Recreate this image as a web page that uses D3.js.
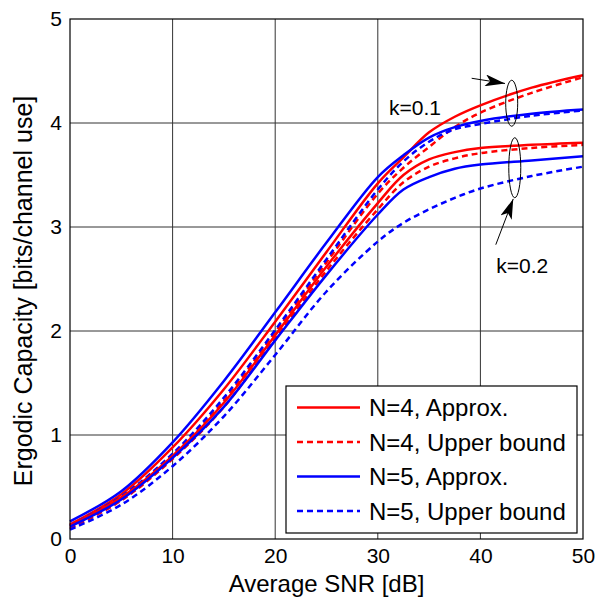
<!DOCTYPE html>
<html>
<head>
<meta charset="utf-8">
<script src="https://cdn.jsdelivr.net/npm/d3@7"></script>
<style>
  body { margin: 0; background: #fff; }
  svg text { font-family: "Liberation Sans", Arial, sans-serif; fill: #000; }
</style>
</head>
<body>
<div id="chart"></div>
<script>
// SNR points (dB)
const snr = [0, 5, 10, 15, 20, 25, 30, 32.5, 35, 37.5, 40, 45, 50];

// k = 0.1
const k01N4Approx = [0.14, 0.43, 0.88, 1.44, 2.09, 2.76, 3.42, 3.67, 3.91, 4.06, 4.17, 4.34, 4.46];
const k01N4Upper  = [0.12, 0.40, 0.80, 1.33, 1.99, 2.66, 3.32, 3.57, 3.77, 3.96, 4.10, 4.29, 4.44];
const k01N5Approx = [0.17, 0.46, 0.93, 1.52, 2.18, 2.85, 3.48, 3.69, 3.86, 3.96, 4.02, 4.09, 4.13];
const k01N5Upper  = [0.13, 0.41, 0.82, 1.36, 2.01, 2.69, 3.36, 3.63, 3.82, 3.94, 3.99, 4.07, 4.12];

// k = 0.2
const k02N4Approx = [0.13, 0.40, 0.80, 1.31, 1.96, 2.62, 3.23, 3.50, 3.65, 3.72, 3.76, 3.79, 3.81];
const k02N4Upper  = [0.10, 0.37, 0.77, 1.27, 1.93, 2.58, 3.17, 3.43, 3.58, 3.66, 3.71, 3.76, 3.79];
const k02N5Approx = [0.12, 0.38, 0.78, 1.27, 1.91, 2.54, 3.12, 3.36, 3.48, 3.56, 3.60, 3.64, 3.68];
const k02N5Upper  = [0.09, 0.33, 0.70, 1.18, 1.77, 2.38, 2.86, 3.04, 3.17, 3.28, 3.37, 3.49, 3.58];

const xTicks = [0, 10, 20, 30, 40, 50];
const yTicks = [0, 1, 2, 3, 4, 5];

const legendLabels = ["N=4, Approx.", "N=4, Upper bound", "N=5, Approx.", "N=5, Upper bound"];
const legendColors = ["#ff0000", "#ff0000", "#0000ff", "#0000ff"];
const legendDashed = [false, true, false, true];

const series = [
    { values: k01N4Approx, color: "#ff0000", dashed: false },
    { values: k01N4Upper,  color: "#ff0000", dashed: true },
    { values: k01N5Approx, color: "#0000ff", dashed: false },
    { values: k01N5Upper,  color: "#0000ff", dashed: true },
    { values: k02N4Approx, color: "#ff0000", dashed: false },
    { values: k02N4Upper,  color: "#ff0000", dashed: true },
    { values: k02N5Approx, color: "#0000ff", dashed: false },
    { values: k02N5Upper,  color: "#0000ff", dashed: true }
];

const width = 610, height = 608;
const margin = { top: 19, right: 27, bottom: 69, left: 70 };
const innerW = width - margin.left - margin.right;
const innerH = height - margin.top - margin.bottom;

const svg = d3.select("#chart").append("svg")
    .attr("width", width)
    .attr("height", height);

const g = svg.append("g").attr("transform", `translate(${margin.left},${margin.top})`);

const x = d3.scaleLinear().domain([0, 50]).range([0, innerW]);
const y = d3.scaleLinear().domain([0, 5]).range([innerH, 0]);

// grid
g.append("g").selectAll("line").data(xTicks.slice(1, -1)).enter().append("line")
    .attr("x1", d => x(d)).attr("x2", d => x(d))
    .attr("y1", 0).attr("y2", innerH)
    .attr("stroke", "#333").attr("stroke-width", 1);
g.append("g").selectAll("line").data(yTicks.slice(1, -1)).enter().append("line")
    .attr("y1", d => y(d)).attr("y2", d => y(d))
    .attr("x1", 0).attr("x2", innerW)
    .attr("stroke", "#333").attr("stroke-width", 1);

// axes
const xAxis = g.append("g")
    .attr("transform", `translate(0,${innerH})`)
    .call(d3.axisBottom(x).tickValues(xTicks).tickFormat(d3.format("d")).tickSize(0).tickPadding(8));
xAxis.select(".domain").remove();
xAxis.selectAll("text").style("font-size", "21px").attr("dy", "0.75em");

const yAxis = g.append("g")
    .call(d3.axisLeft(y).tickValues(yTicks).tickFormat(d3.format("d")).tickSize(0).tickPadding(8));
yAxis.select(".domain").remove();
yAxis.selectAll("text").style("font-size", "21px");

// curves
const line = d3.line()
    .x((d, i) => x(snr[i]))
    .y(d => y(d))
    .curve(d3.curveCatmullRom.alpha(0.5));

g.append("g").selectAll("path").data(series).enter().append("path")
    .attr("d", d => line(d.values))
    .attr("fill", "none")
    .attr("stroke", d => d.color)
    .attr("stroke-width", 2.5)
    .attr("stroke-dasharray", d => d.dashed ? "6,4" : null);

// frame
g.append("rect")
    .attr("width", innerW).attr("height", innerH)
    .attr("fill", "none").attr("stroke", "#000").attr("stroke-width", 1.2);

// axis titles
svg.append("text")
    .attr("x", margin.left + innerW / 2)
    .attr("y", 592)
    .attr("text-anchor", "middle")
    .style("font-size", "24px")
    .text("Average SNR [dB]");

svg.append("text")
    .attr("transform", `translate(32,${margin.top + innerH / 2 + 12}) rotate(-90)`)
    .attr("text-anchor", "middle")
    .style("font-size", "25px")
    .text("Ergodic Capacity [bits/channel use]");

// annotations (data units)
const marker = svg.append("defs").append("marker")
    .attr("id", "arrow")
    .attr("viewBox", "0 0 20 12")
    .attr("refX", 20).attr("refY", 6)
    .attr("markerWidth", 20).attr("markerHeight", 12)
    .attr("markerUnits", "userSpaceOnUse")
    .attr("orient", "auto");
marker.append("path").attr("d", "M0,0 L20,6 L0,12 L5,6 Z").attr("fill", "#000");

const ellipses = [
    { snr: 43.05, cap: 4.19, rx: 6, ry: 23 },
    { snr: 43.35, cap: 3.57, rx: 6, ry: 30 }
];
g.selectAll(".ann-ellipse").data(ellipses).enter().append("ellipse")
    .attr("class", "ann-ellipse")
    .attr("cx", d => x(d.snr)).attr("cy", d => y(d.cap))
    .attr("rx", d => d.rx).attr("ry", d => d.ry)
    .attr("fill", "none").attr("stroke", "#000").attr("stroke-width", 1);

const arrows = [
    { x0: 39.15, y0: 4.43, x1: 42.4, y1: 4.38 },
    { x0: 41.5, y0: 2.83, x1: 43.2, y1: 3.27 }
];
g.selectAll(".ann-arrow").data(arrows).enter().append("line")
    .attr("class", "ann-arrow")
    .attr("x1", d => x(d.x0)).attr("y1", d => y(d.y0))
    .attr("x2", d => x(d.x1)).attr("y2", d => y(d.y1))
    .attr("stroke", "#000").attr("stroke-width", 1)
    .attr("marker-end", "url(#arrow)");

const labels = [
    { snr: 31.1, cap: 4.08, text: "k=0.1" },
    { snr: 41.55, cap: 2.56, text: "k=0.2" }
];
g.selectAll(".ann-label").data(labels).enter().append("text")
    .attr("class", "ann-label")
    .attr("x", d => x(d.snr)).attr("y", d => y(d.cap))
    .style("font-size", "21px")
    .text(d => d.text);

// legend
const legend = svg.append("g").attr("transform", "translate(286,386)");
legend.append("rect")
    .attr("width", 291).attr("height", 147)
    .attr("fill", "#fff").attr("stroke", "#000").attr("stroke-width", 1.2);
const rows = legend.selectAll(".row").data(legendLabels).enter().append("g")
    .attr("transform", (d, i) => `translate(0,${21.5 + i * 34.5})`);
rows.append("line")
    .attr("x1", 11).attr("x2", 74)
    .attr("stroke", (d, i) => legendColors[i])
    .attr("stroke-width", 2.5)
    .attr("stroke-dasharray", (d, i) => legendDashed[i] ? "6,4" : null);
rows.append("text")
    .attr("x", 83).attr("dy", "0.36em")
    .style("font-size", "24px")
    .text(d => d);
</script>
</body>
</html>
